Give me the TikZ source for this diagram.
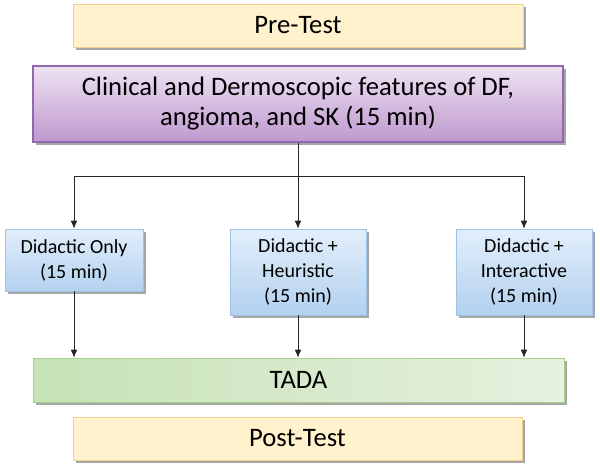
\documentclass[tikz,border=0pt]{standalone}
\usepackage{fontspec}
\setmainfont{Carlito}
\usetikzlibrary{arrows.meta,shadows}
\definecolor{testfill}{HTML}{FFF2CC}
\definecolor{testline}{HTML}{F2D08A}
\definecolor{lectop}{HTML}{EEE2F2}
\definecolor{lecbot}{HTML}{BE98CE}
\definecolor{lecline}{HTML}{9466AE}
\definecolor{armtop}{HTML}{E2EEFB}
\definecolor{armbot}{HTML}{B3D1EF}
\definecolor{armline}{HTML}{9CC2E5}
\definecolor{tadaleft}{HTML}{C6E2B6}
\definecolor{tadaright}{HTML}{E6F1DF}
\definecolor{tadaline}{HTML}{A8D08D}
\begin{document}
\begin{tikzpicture}
  [x=0.75pt,y=-0.75pt,every node/.style={rectangle,align=center,text=black,
   drop shadow={shadow xshift=2pt,shadow yshift=-2pt,opacity=0.35,fill=black}}]
  \tikzstyle{testbox} = [draw=testline,fill=testfill,font=\fontsize{20}{24}\selectfont]
  \tikzstyle{lecture} = [draw=lecline,thick,top color=lectop,bottom color=lecbot,font=\fontsize{20}{22.5}\selectfont]
  \tikzstyle{arm} = [draw=armline,top color=armtop,bottom color=armbot,font=\fontsize{15}{18.75}\selectfont]
  \tikzstyle{tadabox} = [draw=tadaline,left color=tadaleft,right color=tadaright,font=\fontsize{20}{24}\selectfont]
  \tikzstyle{link} = [-{Latex[length=6pt,width=5pt]},semithick,black!85]
  \useasboundingbox (0,0) rectangle (600,468);
  \node[testbox,minimum width=337.5pt,minimum height=32.25pt] (pre) at (298,25.5) {Pre-Test};
  \node[lecture,minimum width=397.5pt,minimum height=57pt] (lec) at (298,104)
    {Clinical and Dermoscopic features of DF,\\ angioma, and SK (15 min)};
  \node[arm,minimum width=103.5pt,minimum height=46.5pt] (only) at (74,260) {Didactic Only\\ (15 min)};
  \node[arm,minimum width=102pt,minimum height=64.5pt] (heur) at (298,272) {Didactic +\\ Heuristic\\ (15 min)};
  \node[arm,minimum width=102pt,minimum height=64.5pt] (inter) at (524,272) {Didactic +\\ Interactive\\ (15 min)};
  \node[tadabox,minimum width=398.25pt,minimum height=33pt] (tada) at (298.5,380) {TADA};
  \node[testbox,minimum width=336.75pt,minimum height=32.25pt] (post) at (297.5,438.5) {Post-Test};
  \coordinate (split) at (298,176);
  \draw[semithick,black!85] (lec.south) -- (split);
  \foreach \dest in {only,heur,inter}
   \draw[link] (split) -| (\dest.north);
  \foreach \source in {only,heur,inter}
   \draw[link] (\source.south) -- (\source.south |- tada.north);
\end{tikzpicture}
\end{document}
